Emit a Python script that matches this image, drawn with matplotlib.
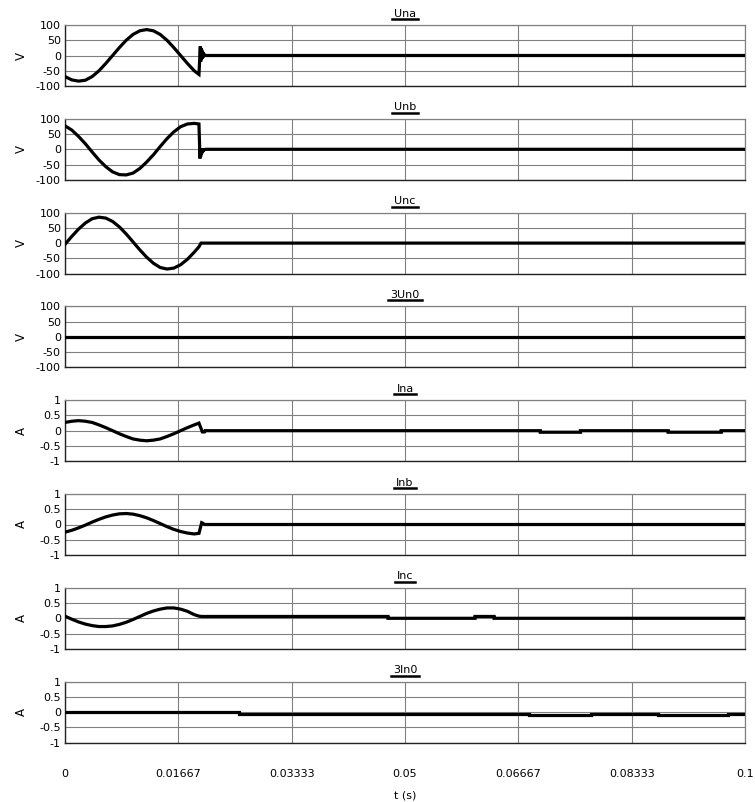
#%%
import numpy as np
import matplotlib
matplotlib.use("Agg")
from matplotlib import pyplot as plt
from matplotlib.lines import Line2D

#%% Valores (tempo em ms)
# trecho antes da falta, comum a todos os sinais
t_pre = [0, 1, 2, 3, 4, 5, 6, 7, 8, 9, 10, 11, 12, 13, 14, 15, 16, 17, 18, 19, 19.7]

una_pre = [-69, -80, -84, -81, -69, -50, -26, 0, 26, 50, 69, 81, 85, 81, 69, 50, 26, 0, -26, -50, -62]
una_t = [19.9, 19.95, 20.0, 20.05, 20.1, 20.15, 20.2, 20.25, 20.3, 20.35, 20.4, 20.5, 20.7, 100]
una_v = [30, -20, 25, -15, 19, -11, 14, -8, 9, -5, 5, 2, 0, 0]

unb_pre = [77, 63, 42, 18, -9, -35, -57, -74, -83, -84, -78, -63, -42, -18, 9, 35, 57, 74, 83, 85, 83]
unb_t = [19.85, 19.9, 19.95, 20.0, 20.05, 20.1, 20.15, 20.2, 20.25, 20.3, 20.35, 20.4, 20.5, 20.7, 100]
unb_v = [-30, 4, -24, 3, -18, 2, -13, 2, -9, 1, -6, -3, -1, 0, 0]

unc_pre = [-4, 22, 46, 66, 80, 85, 82, 71, 53, 30, 4, -22, -46, -66, -80, -85, -82, -71, -53, -30, -12]
unc_t = [20.0, 100]
unc_v = [0, 0]

un0_pre = [0] * 21
un0_t = [100]
un0_v = [0]

ina_pre = [0.27, 0.31, 0.33, 0.31, 0.27, 0.19, 0.10, 0.0, -0.10, -0.19, -0.27, -0.31, -0.33, -0.31, -0.27,
           -0.19, -0.10, 0.0, 0.10, 0.19, 0.25]
ina_t = [20.2, 20.5, 20.6, 69.9, 69.9, 75.8, 75.8, 88.7, 88.7, 96.5, 96.5, 100]
ina_v = [-0.04, -0.04, 0, 0, -0.05, -0.05, 0, 0, -0.05, -0.05, 0, 0]

inb_pre = [-0.25, -0.19, -0.11, -0.02, 0.08, 0.17, 0.25, 0.31, 0.35, 0.36, 0.34, 0.29, 0.22, 0.13, 0.03,
           -0.07, -0.16, -0.23, -0.28, -0.31, -0.29]
inb_t = [20.1, 20.3, 20.5, 100]
inb_v = [0.06, 0.04, 0.0, 0.0]

inc_pre = [0.07, -0.03, -0.12, -0.19, -0.24, -0.27, -0.27, -0.25, -0.20, -0.13, -0.04, 0.06, 0.16, 0.24, 0.30,
           0.34, 0.34, 0.30, 0.23, 0.12, 0.07]
inc_t = [20.1, 47.5, 47.5, 60.3, 60.3, 63.1, 63.1, 100]
inc_v = [0.06, 0.06, 0.0, 0.0, 0.06, 0.06, 0.0, 0.0]

in0_pre = [0] * 21
in0_t = [25.6, 25.6, 68.3, 68.3, 77.4, 77.4, 87.2, 87.2, 97.5, 97.5, 100]
in0_v = [0, -0.05, -0.05, -0.1, -0.1, -0.05, -0.05, -0.1, -0.1, -0.05, -0.05]

names = ['Una', 'Unb', 'Unc', '3Un0', 'Ina', 'Inb', 'Inc', '3In0']
units = ['V', 'V', 'V', 'V', 'A', 'A', 'A', 'A']
series = [(una_pre, una_t, una_v), (unb_pre, unb_t, unb_v), (unc_pre, unc_t, unc_v),
          (un0_pre, un0_t, un0_v), (ina_pre, ina_t, ina_v), (inb_pre, inb_t, inb_v),
          (inc_pre, inc_t, inc_v), (in0_pre, in0_t, in0_v)]

v_ticks = [-100, -50, 0, 50, 100]
a_ticks = [-1, -0.5, 0, 0.5, 1]
a_tick_labels = ['-1', '-0.5', '0', '0.5', '1']
x_tick_labels = ['0', '0.01667', '0.03333', '0.05', '0.06667', '0.08333', '0.1']

#%% Figura
plt.rcParams['font.family'] = ['DejaVu Sans']
plt.rcParams['axes.unicode_minus'] = False
W, H = 755, 802
fig = plt.figure(figsize=(W / 100, H / 100), dpi=100)

left, right = 65, 745
ax_h = 61
gap = 93.8
axes = []
for i in range(8):
    top = 25 + gap * i
    ax = fig.add_axes([left / W, 1 - (top + ax_h) / H, (right - left) / W, ax_h / H])
    axes.append(ax)

x_ticks = np.arange(7) / 60.0
x_ticks[-1] = 0.1

for i, ax in enumerate(axes):
    pre, tp, vp = series[i]
    t = np.concatenate([t_pre, tp]) / 1000.0
    v = np.concatenate([pre, vp])
    ax.plot(t, v, color='black', lw=2.3, solid_joinstyle='miter', zorder=3)

    ax.set_xlim(0, 0.1)
    if units[i] == 'V':
        ax.set_ylim(-100, 100)
        ax.set_yticks(v_ticks)
    else:
        ax.set_ylim(-1, 1)
        ax.set_yticks(a_ticks)
        ax.set_yticklabels(a_tick_labels)
    ax.set_xticks(x_ticks)
    ax.grid(True, color='#808080', lw=0.8)
    ax.tick_params(length=0, labelsize=8, pad=3)
    for s in ['top', 'right']:
        ax.spines[s].set_color('#808080')
        ax.spines[s].set_linewidth(0.9)
    for s in ['left', 'bottom']:
        ax.spines[s].set_color('#222222')
        ax.spines[s].set_linewidth(1.0)
    ax.set_ylabel(units[i], fontsize=8.5)
    ax.yaxis.set_label_coords(-0.055, 0.5)
    ax.set_title(names[i], fontsize=8, pad=6)
    if i < 7:
        ax.set_xticklabels([])
    else:
        ax.set_xticklabels(x_tick_labels)
        ax.tick_params(axis='x', pad=19)
        ax.set_xlabel('t (s)', fontsize=8, labelpad=8)

# sublinhado grosso abaixo de cada titulo
fig.canvas.draw()
rend = fig.canvas.get_renderer()
for ax in axes:
    bb = ax.title.get_window_extent(rend)
    y = ax.get_window_extent(rend).y1 + 6
    fig.add_artist(Line2D([(bb.x0 - 2) / W, (bb.x1 + 2) / W], [y / H, y / H],
                          transform=fig.transFigure, color='black', lw=1.8))

plt.savefig('out.png', dpi=100)
